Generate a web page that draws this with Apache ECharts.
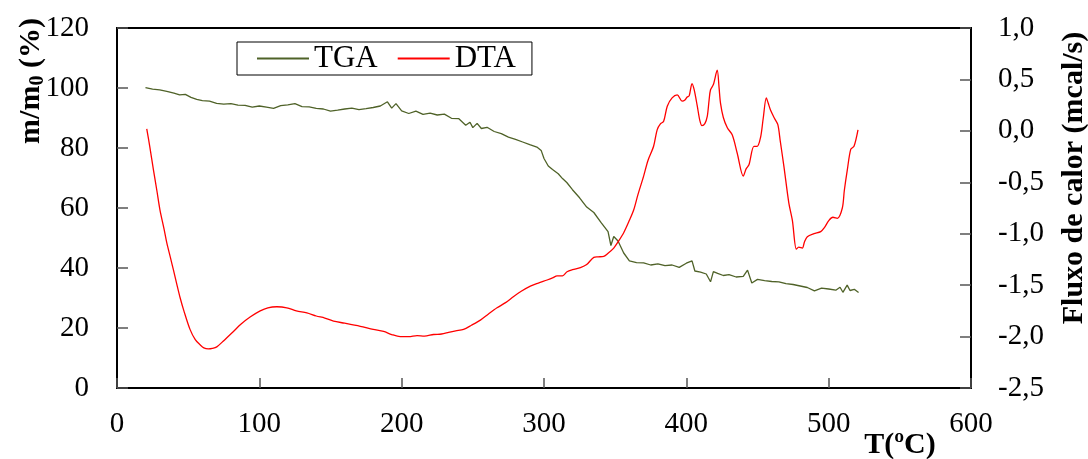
<!DOCTYPE html>
<html>
<head>
<meta charset="utf-8">
<script src="https://cdn.jsdelivr.net/npm/echarts@6/dist/echarts.min.js"></script>
<style>html,body{margin:0;padding:0;background:#fff}#c{width:1088px;height:459px}</style>
</head>
<body>
<div id="c"></div>
<script>
// TGA (m/m0 %), left axis
var tgaT = [20,25,30,35,40,44,48,52,56,60,65,70,75,80,85,90,95,100,105,110,115,120,125,130,135,140,145,150,155,160,165,170,175,180,185,190,193,196,200,205,210,215,220,225,230,235,240,245,248,250,253,256,260,265,270,275,280,285,290,295,298,300,303,306,310,313,316,320,325,330,335,340,345,347,349,352,356,360,365,370,375,380,385,390,395,400,404,406,410,414,417,419,422,426,430,435,440,443,446,450,455,460,465,470,475,480,485,490,495,500,505,508,510,513,515,518,521];
var tgaV = [100.1,99.6,99.4,98.9,98.3,97.7,97.9,96.9,96.2,95.8,95.6,94.9,94.6,94.8,94.3,94.2,93.6,94.0,93.6,93.2,94.1,94.4,94.8,93.8,93.7,93.2,93.0,92.3,92.6,93.0,93.3,92.8,93.1,93.5,94.0,95.4,93.3,94.8,92.4,91.5,92.3,91.2,91.6,91.0,91.3,89.9,89.8,87.6,88.6,86.8,88.2,86.5,86.9,85.5,84.8,83.6,82.9,82.0,81.1,80.3,79.2,76.5,74.0,72.8,71.4,69.8,68.5,66.1,63.4,60.3,58.5,55.2,52.1,47.5,50.5,49.0,45.0,42.4,41.8,41.7,41.0,41.4,40.8,41.0,40.2,41.6,42.4,39.0,38.6,38.0,35.4,38.8,38.2,37.5,37.8,37.0,37.2,39.3,35.0,36.2,35.8,35.5,35.4,34.8,34.5,34.0,33.5,32.4,33.3,33.0,32.6,33.6,31.9,34.3,32.5,32.9,31.8];
// DTA (Fluxo de calor, mcal/s), right axis
var dtaT = [20.9,23,25.6,28,30.2,33,35,37.5,39.6,42,44.3,47,51.3,55,58.4,61,64.2,67,70.1,75,81.8,87,93.5,100.6,106,112.3,119.3,126,133.4,140,146,152.1,160,170.9,180,187.3,193,199,205,210.8,216,222.4,228,233,238,243.5,249,255.3,261,267,273,278.7,284,290.4,296,302.2,306,309.2,313,316.2,320,325.6,330,335,338,342,345,349,352,356,360,363,366,370,373,377,379.5,381.9,384,386.6,390,393.6,397,399,400.6,402,404,405.5,407.7,409.5,411,413,414.7,416,417,419,421.7,423,424,426,428.8,432.3,435.8,440,442,444,447.5,449.8,452.2,454,456.2,457.5,459.2,462,464.3,466,468.6,472,474.5,477.3,479,481.5,483,485,489.7,494.4,497,500.2,503,506.1,509.6,511,513.1,515.5,517.8,520.6];
var dtaV = [0.02,-0.15,-0.38,-0.58,-0.77,-0.95,-1.09,-1.23,-1.35,-1.49,-1.62,-1.75,-1.93,-2.03,-2.08,-2.11,-2.12,-2.115,-2.10,-2.04,-1.95,-1.88,-1.81,-1.75,-1.72,-1.71,-1.72,-1.75,-1.77,-1.80,-1.82,-1.85,-1.87,-1.90,-1.93,-1.95,-1.98,-2.00,-2.00,-1.99,-1.995,-1.98,-1.975,-1.96,-1.945,-1.93,-1.89,-1.84,-1.78,-1.72,-1.67,-1.61,-1.56,-1.51,-1.48,-1.45,-1.43,-1.41,-1.41,-1.37,-1.35,-1.33,-1.30,-1.23,-1.225,-1.22,-1.19,-1.14,-1.08,-0.99,-0.87,-0.77,-0.62,-0.44,-0.29,-0.15,0.01,0.07,0.09,0.24,0.32,0.35,0.29,0.30,0.33,0.34,0.46,0.40,0.24,0.10,0.05,0.07,0.14,0.30,0.40,0.45,0.59,0.42,0.27,0.13,0.03,-0.04,-0.22,-0.44,-0.37,-0.33,-0.15,-0.15,-0.06,0.12,0.32,0.27,0.20,0.12,0.06,-0.10,-0.35,-0.70,-0.87,-1.15,-1.13,-1.14,-1.08,-1.03,-1.00,-0.98,-0.94,-0.87,-0.84,-0.85,-0.75,-0.58,-0.38,-0.18,-0.15,0.01];

function zip(a, b) { var r = []; for (var i = 0; i < a.length; i++) r.push([a[i], b[i]]); return r; }

var FONT = '"Liberation Serif", "Times New Roman", serif';
var chart = echarts.init(document.getElementById('c'), null, {renderer: 'canvas'});
chart.setOption({
  backgroundColor: '#fff',
  animation: false,
  textStyle: {fontFamily: FONT},
  grid: {left: 117, right: 117, top: 28, bottom: 71, show: true, borderColor: '#000', borderWidth: 2, backgroundColor: 'transparent'},
  legend: {
    left: 237, top: 42, padding: [1, 16, 1, 20], itemGap: 20, itemWidth: 52, itemHeight: 2, icon: 'rect',
    borderColor: '#000', borderWidth: 1, backgroundColor: '#fff',
    textStyle: {fontFamily: FONT, fontSize: 31, color: '#000', padding: [0, 0, 0, 0]},
    data: ['TGA', 'DTA']
  },
  xAxis: {
    type: 'value', min: 0, max: 600, interval: 100,
    axisLine: {show: true, lineStyle: {color: '#000', width: 2}},
    axisTick: {show: true, inside: true, length: 10, lineStyle: {color: '#555', width: 1.5}},
    axisLabel: {fontFamily: FONT, fontSize: 29, color: '#000', margin: 22},
    splitLine: {show: false}
  },
  yAxis: [{
    type: 'value', min: 0, max: 120, interval: 20, position: 'left',
    axisLine: {show: true, lineStyle: {color: '#000', width: 2}},
    axisTick: {show: true, inside: true, length: 11, lineStyle: {color: '#555', width: 1.5}},
    axisLabel: {fontFamily: FONT, fontSize: 29, color: '#000', margin: 28},
    splitLine: {show: false}
  }, {
    type: 'value', min: -2.5, max: 1.0, interval: 0.5, position: 'right',
    axisLine: {show: true, lineStyle: {color: '#000', width: 2}},
    axisTick: {show: true, inside: true, length: 11, lineStyle: {color: '#555', width: 1.5}},
    axisLabel: {fontFamily: FONT, fontSize: 29, color: '#000', margin: 27,
      formatter: function (v) { return v.toFixed(1).replace('.', ','); }},
    splitLine: {show: false}
  }],
  series: [{
    name: 'TGA', type: 'line', yAxisIndex: 0, symbol: 'none', smooth: false,
    lineStyle: {color: '#4f6228', width: 1.3}, itemStyle: {color: '#4f6228'},
    data: zip(tgaT, tgaV)
  }, {
    name: 'DTA', type: 'line', yAxisIndex: 1, symbol: 'none', smooth: 0.3,
    lineStyle: {color: '#ff0000', width: 1.3}, itemStyle: {color: '#ff0000'},
    data: zip(dtaT, dtaV)
  }],
  graphic: [{
    type: 'text', x: 31, y: 81, rotation: Math.PI / 2,
    style: {
      text: '{a|m/m}{b|0}{a| (%)}', align: 'center', verticalAlign: 'middle',
      rich: {
        a: {fontFamily: FONT, fontSize: 30, fontWeight: 'bold', fill: '#000'},
        b: {fontFamily: FONT, fontSize: 20, fontWeight: 'bold', fill: '#000', verticalAlign: 'bottom', padding: [13, 0, 0, 0]}
      }
    }
  }, {
    type: 'text', x: 1074, y: 178, rotation: Math.PI / 2,
    style: {text: 'Fluxo de calor (mcal/s)', align: 'center', verticalAlign: 'middle',
      font: 'bold 30px ' + FONT, fill: '#000'}
  }, {
    type: 'text', x: 900, y: 445,
    style: {text: 'T(ºC)', align: 'center', verticalAlign: 'middle',
      font: 'bold 30px ' + FONT, fill: '#000'}
  }]
});
</script>
</body>
</html>
